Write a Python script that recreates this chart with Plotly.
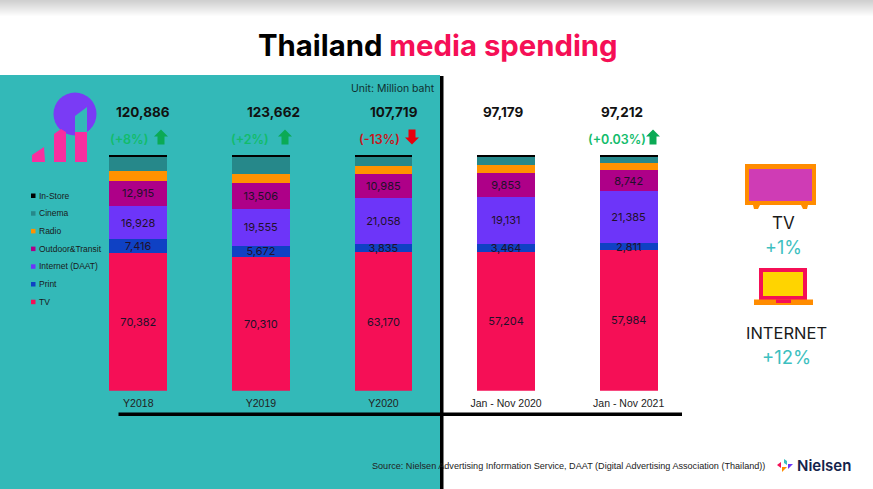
import plotly.graph_objects as go

# Values (million baht), radio / cinema / in-store are estimates from bar height
periods = ['Y2018', 'Y2019', 'Y2020', 'Jan - Nov 2020', 'Jan - Nov 2021']
tv = [70382, 70310, 63170, 57204, 57984]
print_ads = [7416, 5672, 3835, 3464, 2811]
internet = [16928, 19555, 21058, 19131, 21385]
outdoor = [12915, 13506, 10985, 9853, 8742]
radio = [4845, 4730, 3530, 3300, 3020]
cinema = [7500, 8950, 4260, 3720, 2770]
in_store = [900, 940, 881, 507, 500]

totals = ['120,886', '123,662', '107,719', '97,179', '97,212']
changes = ['(+8%)', '(+2%)', '(-13%)', None, '(+0.03%)']
up_down = ['up', 'up', 'down', None, 'up']

W, H = 873, 489
TEAL = '#33B9B8'
GREEN = '#12BC6B'
FONT = 'Inter'


def px(x):
    return x / W


def py(y):
    return 1 - y / H


def rect(x0, y0, x1, y1, color, layer='above'):
    return dict(type='rect', xref='paper', yref='paper', x0=px(x0), x1=px(x1), y0=py(y0), y1=py(y1),
                fillcolor=color, line_width=0, layer=layer)


def poly(points, color):
    d = 'M ' + ' L '.join(f'{px(a):.5f} {py(b):.5f}' for a, b in points) + ' Z'
    return dict(type='path', xref='paper', yref='paper', path=d, fillcolor=color, line_width=0)


def arrow(cx, cy, color, up=True):
    s = 1 if up else -1
    return poly([(cx, cy - 7.5 * s), (cx + 7, cy - 0.5 * s), (cx + 3.5, cy - 0.5 * s), (cx + 3.5, cy + 7.5 * s),
                 (cx - 3.5, cy + 7.5 * s), (cx - 3.5, cy - 0.5 * s), (cx - 7, cy - 0.5 * s)], color)


def text(x, y, s, size, color='#1a1a1a', family=FONT, anchor='center', weight=400):
    return dict(xref='paper', yref='paper', x=px(x), y=py(y), text=s, showarrow=False,
                xanchor=anchor, yanchor='middle', font=dict(size=size, color=color, family=family, weight=weight))


series = [
    ('TV', tv, '#F50F56', True),
    ('Print', print_ads, '#0F41C4', True),
    ('Internet (DAAT)', internet, '#6D35F9', True),
    ('Outdoor&Transit', outdoor, '#AE0088', True),
    ('Radio', radio, '#FF9200', False),
    ('Cinema', cinema, '#26888A', False),
    ('In-Store', in_store, '#000000', False),
]

fig = go.Figure()
for name, vals, color, labelled in series:
    fig.add_trace(go.Bar(
        x=periods, y=vals, name=name, marker=dict(color=color, line_width=0), width=0.47,
        text=[f'{v:,}' for v in vals] if labelled else None,
        textposition='inside' if labelled else 'none', insidetextanchor='middle', textangle=0,
        constraintext='none', insidetextfont=dict(size=11, color='#22102a', family=FONT),
        showlegend=False,
    ))

shapes = []
# grey band at the top of the slide
for i in range(17):
    g = 208 + int(47 * i / 16)
    shapes.append(rect(0, i, W, i + 1, f'rgb({g},{g},{g})', 'below'))
shapes.append(rect(0, 75, 440, H, TEAL, 'below'))
shapes.append(rect(440, 76, 443.5, H, '#000000'))
shapes.append(rect(118.5, 412.5, 682, 416, '#000000'))

annotations = [
    dict(xref='paper', yref='paper', x=px(438), y=py(45), xanchor='center', yanchor='middle', showarrow=False,
         text='<b>Thailand <span style="color:#F50F56">media spending</span></b>',
         font=dict(size=29.3, color='#000000', family=FONT)),
    text(437, 88, 'Unit: Million baht', 10.5, '#10302f', anchor='right'),
    text(370, 466, 'Source: Nielsen Advertising Information Service, DAAT (Digital Advertising Association (Thailand))',
         9.1, '#222222', 'Liberation Sans', 'left'),
]

# totals and change labels above the bars, the slide does not centre them on the bars
total_x = [142.5, 273, 394, 503, 622]
change_x = [129, 250, 379, None, 617]
arrow_x = [161, 285, 412, None, 653]
for i, p in enumerate(periods):
    annotations.append(text(total_x[i], 112, f'<b>{totals[i]}</b>', 13.5, '#111111'))
    if changes[i]:
        is_up = up_down[i] == 'up'
        annotations.append(text(change_x[i], 139, changes[i], 12.5, GREEN if is_up else '#C8151B', weight=600))
        shapes.append(arrow(arrow_x[i], 137, '#0BAA55' if is_up else '#E8000D', is_up))

# legend drawn by hand to keep the slide's tight spacing
for i, (name, vals, color, labelled) in enumerate(reversed(series)):
    y = 195.5 + i * 17.7
    shapes.append(rect(31, y - 2, 35.5, y + 2.5, color))
    annotations.append(text(37, y, name, 8.5, '#1a1a1a', 'Liberation Sans', 'left'))

# logo top left
shapes.append(dict(type='circle', xref='paper', yref='paper', x0=px(53.5), x1=px(96.5), y0=py(135.5), y1=py(92.5),
                   fillcolor='#7A3BF5', line_width=0))
shapes.append(poly([(32, 162), (32, 155), (44, 147), (45, 162)], '#F92E9F'))
shapes.append(poly([(54, 162), (54, 134), (61, 129), (66, 132), (66, 162)], '#F92E9F'))
shapes.append(poly([(75, 162), (75, 132), (87, 132), (87, 162)], '#F92E9F'))
shapes.append(poly([(75, 132), (75, 116), (87, 107), (87, 132)], TEAL))

# TV icon
shapes.append(rect(745, 164, 816, 205, '#FF8C00'))
shapes.append(rect(749, 169, 812, 201, '#CF3CB5'))
shapes.append(poly([(753, 205), (760, 205), (758, 209), (754, 209)], '#FF8C00'))
shapes.append(poly([(801, 205), (808, 205), (807, 209), (803, 209)], '#FF8C00'))
annotations.append(text(783, 223, 'TV', 17))
annotations.append(text(783, 247, '+1%', 18, '#3DBFC0'))

# laptop icon
shapes.append(rect(759, 268, 807, 300, '#F50F56'))
shapes.append(rect(763, 272, 803, 296, '#FFD400'))
shapes.append(rect(754, 299.5, 813, 305, '#FF8C00'))
shapes.append(rect(776, 299.5, 791, 303, '#F50F56'))
annotations.append(text(786, 333, 'INTERNET', 16.5))
annotations.append(text(786, 357, '+12%', 18.5, '#3DBFC0'))

# Nielsen mark, bottom right
shapes.append(poly([(777, 465), (781, 462), (781, 468)], '#F50F56'))
shapes.append(poly([(782, 467), (787, 467), (782, 472)], '#FF8C00'))
shapes.append(poly([(784, 459), (787, 461), (787, 465), (784, 463)], '#3DBFC0'))
shapes.append(poly([(788, 464), (793, 464), (788, 469)], '#6D35F9'))
annotations.append(text(795, 465.5, 'Nielsen', 15, '#14234B', anchor='left', weight=600))

fig.update_layout(
    width=W, height=H, barmode='stack', barnorm='percent', showlegend=False,
    margin=dict(l=0, r=0, t=0, b=0), paper_bgcolor='white', plot_bgcolor='rgba(0,0,0,0)',
    xaxis=dict(domain=[px(77), px(690)], type='category', showgrid=False, zeroline=False, showline=False,
               ticks='', ticklabelstandoff=5, tickfont=dict(size=10.5, color='#222222', family='Liberation Sans')),
    yaxis=dict(domain=[py(390.7), py(155)], range=[0, 100], visible=False),
    shapes=shapes, annotations=annotations,
)

# the slide runs to the window edge, so drop the browser's default body margin
fig.write_html('out.html', config=dict(displayModeBar=False), post_script="document.body.style.margin='0';")
